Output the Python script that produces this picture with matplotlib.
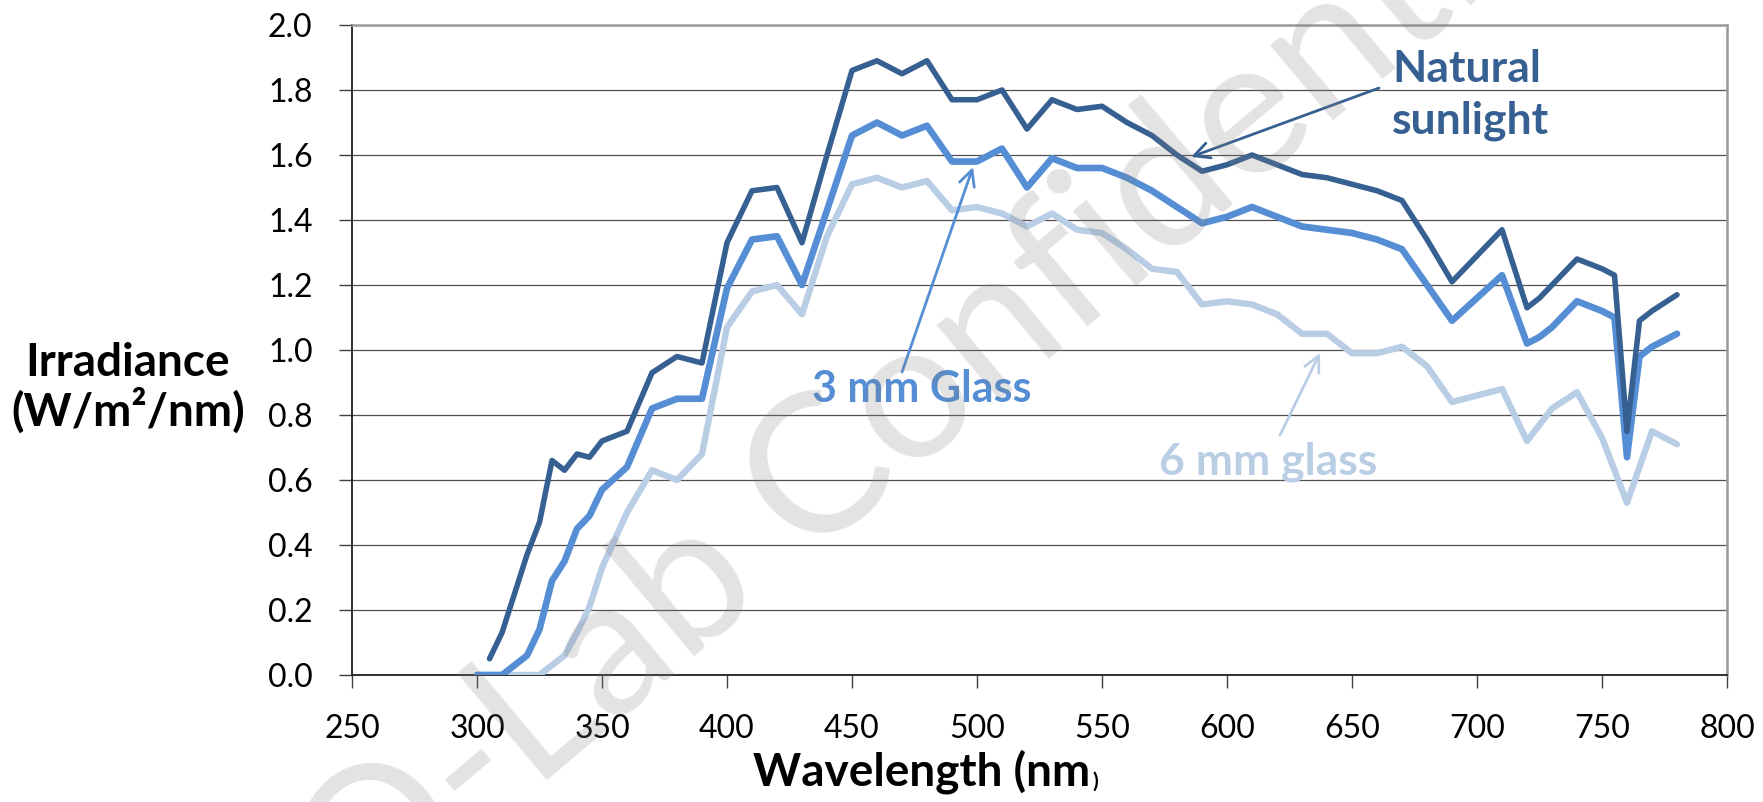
import numpy as np
import matplotlib
matplotlib.use("Agg")
import matplotlib.pyplot as plt

plt.rcParams['font.family'] = ['Lato', 'DejaVu Sans']

# wavelength (nm) and irradiance (W/m2/nm)
wavelength = [300, 305, 310, 315, 320, 325, 330, 335, 340, 345, 350,
              360, 370, 380, 390, 400, 410, 420, 430, 440, 450, 460,
              470, 480, 490, 500, 510, 520, 530, 540, 550, 560, 570,
              580, 590, 600, 610, 620, 630, 640, 650, 660, 670, 680,
              690, 700, 710, 720, 725, 730, 740, 750, 755, 760, 765,
              770, 780]

natural = [np.nan, 0.05, 0.13, 0.25, 0.37, 0.47, 0.66, 0.63, 0.68, 0.67, 0.72,
           0.75, 0.93, 0.98, 0.96, 1.33, 1.49, 1.50, 1.33, 1.60, 1.86, 1.89,
           1.85, 1.89, 1.77, 1.77, 1.80, 1.68, 1.77, 1.74, 1.75, 1.70, 1.66,
           1.60, 1.55, 1.57, 1.60, 1.57, 1.54, 1.53, 1.51, 1.49, 1.46, 1.34,
           1.21, 1.29, 1.37, 1.13, 1.16, 1.20, 1.28, 1.25, 1.23, 0.75, 1.09,
           1.12, 1.17]

glass_3mm = [0.0, 0.0, 0.0, 0.03, 0.06, 0.14, 0.29, 0.35, 0.45, 0.49, 0.57,
             0.64, 0.82, 0.85, 0.85, 1.19, 1.34, 1.35, 1.20, 1.43, 1.66, 1.70,
             1.66, 1.69, 1.58, 1.58, 1.62, 1.50, 1.59, 1.56, 1.56, 1.53, 1.49,
             1.44, 1.39, 1.41, 1.44, 1.41, 1.38, 1.37, 1.36, 1.34, 1.31, 1.20,
             1.09, 1.16, 1.23, 1.02, 1.04, 1.07, 1.15, 1.12, 1.10, 0.67, 0.98,
             1.01, 1.05]

glass_6mm = [0.0, 0.0, 0.0, 0.0, 0.0, 0.0, 0.03, 0.06, 0.13, 0.21, 0.33,
             0.50, 0.63, 0.60, 0.68, 1.07, 1.18, 1.20, 1.11, 1.35, 1.51, 1.53,
             1.50, 1.52, 1.43, 1.44, 1.42, 1.38, 1.42, 1.37, 1.36, 1.31, 1.25,
             1.24, 1.14, 1.15, 1.14, 1.11, 1.05, 1.05, 0.99, 0.99, 1.01, 0.95,
             0.84, 0.86, 0.88, 0.72, 0.77, 0.82, 0.87, 0.73, 0.63, 0.53, 0.64,
             0.75, 0.71]

c_dark = '#376092'
c_mid = '#558ED5'
c_light = '#B9CDE5'

fig = plt.figure(figsize=(17.63, 8.02), dpi=100)
ax = fig.add_axes([352 / 1763, 127 / 802, 1375 / 1763, 650 / 802])

ax.plot(wavelength, glass_6mm, color=c_light, lw=4.6, solid_capstyle='round', zorder=3)
ax.plot(wavelength, glass_3mm, color=c_mid, lw=4.8, solid_capstyle='round', zorder=4)
ax.plot(wavelength, natural, color=c_dark, lw=4.0, solid_capstyle='round', zorder=5)

ax.set_xlim(250, 800)
ax.set_ylim(0, 2.0)
ax.set_xticks(np.arange(250, 801, 50))
ax.set_yticks(np.arange(0, 2.01, 0.2))
ax.set_yticklabels([f"{v:.1f}" for v in np.arange(0, 2.01, 0.2)])
ax.tick_params(axis='both', direction='out', length=9.4, width=1.0, color='#404040',
               labelsize=23, pad=19)
ax.yaxis.grid(True, color='#505050', lw=0.9)
ax.set_axisbelow(True)
for s in ['left', 'bottom']:
    ax.spines[s].set_color('#202020')
    ax.spines[s].set_linewidth(1.3)
for s in ['top', 'right']:
    ax.spines[s].set_color('#9a9a9a')
    ax.spines[s].set_linewidth(1.8)

# axis titles
fig.text(128 / 1763, 1 - 388 / 802, "Irradiance\n(W/m²/nm)", ha='center', va='center',
         fontsize=33, fontweight='bold', linespacing=1.1)
xl = fig.text(922 / 1763, 1 - 786 / 802, "Wavelength (nm", ha='center', va='baseline',
              fontsize=33, fontweight='bold')
ax.annotate(")", xy=(1, 0), xycoords=xl, xytext=(1, 2), textcoords='offset points',
            ha='left', va='bottom', fontsize=15, fontweight='bold')

# series labels with arrows
ax.text(666, 1.925, "Natural\nsunlight", color=c_dark, fontsize=32, fontweight='bold',
        ha='left', va='top', linespacing=1.35)
ax.annotate('', xy=(585.6, 1.594), xytext=(660.8, 1.806),
            arrowprops=dict(arrowstyle='->', color=c_dark, lw=2, mutation_scale=28,
                            shrinkA=0, shrinkB=0), zorder=6)
ax.text(478, 0.88, "3 mm Glass", color=c_mid, fontsize=31, fontweight='bold',
        ha='center', va='center')
ax.annotate('', xy=(498.4, 1.563), xytext=(470, 0.932),
            arrowprops=dict(arrowstyle='->', color=c_mid, lw=2, mutation_scale=28,
                            shrinkA=0, shrinkB=0), zorder=6)
ax.text(616.4, 0.655, "6 mm glass", color=c_light, fontsize=32, fontweight='bold',
        ha='center', va='center')
ax.annotate('', xy=(637.2, 0.991), xytext=(621.2, 0.738),
            arrowprops=dict(arrowstyle='->', color=c_light, lw=2, mutation_scale=28,
                            shrinkA=0, shrinkB=0), zorder=6)

# watermark
fig.text(360 / 1763, -0.17, "Q-Lab Confidential", rotation=40, rotation_mode='anchor',
         ha='left', va='baseline', fontsize=140, color='#808080', alpha=0.22, zorder=10)

fig.savefig("out.png", dpi=100)
